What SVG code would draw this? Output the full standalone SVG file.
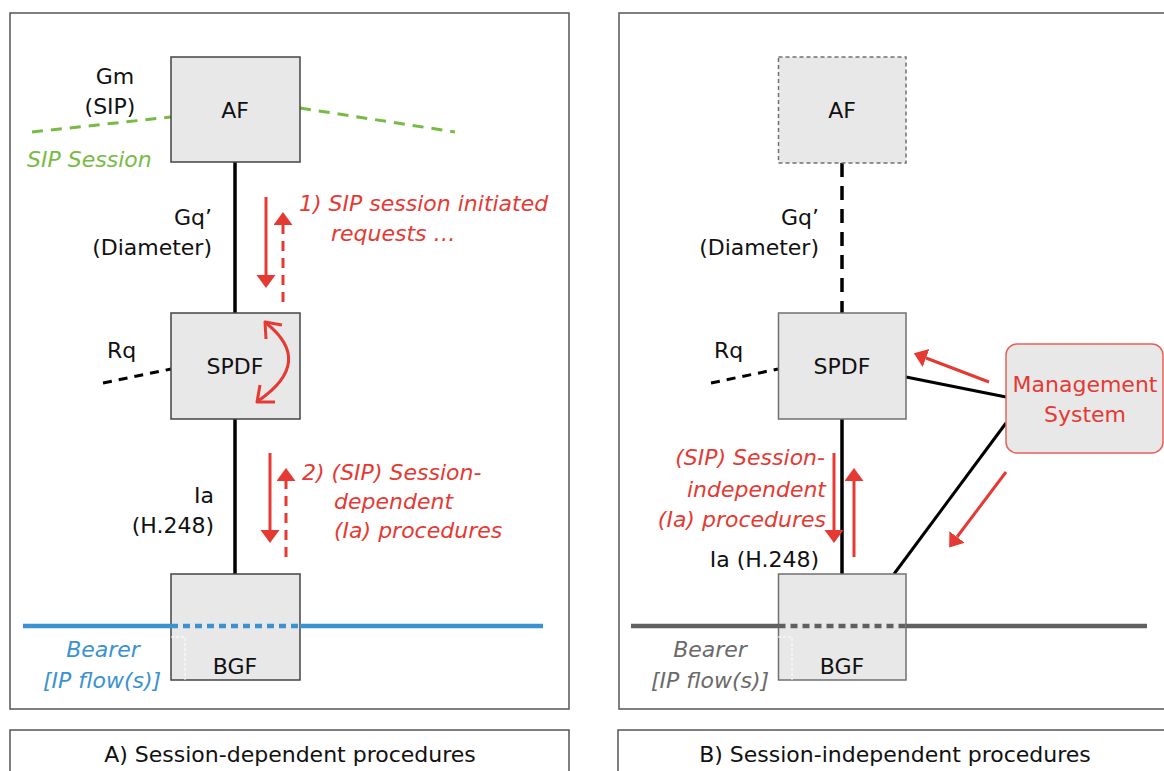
<svg xmlns="http://www.w3.org/2000/svg" width="1164" height="771" viewBox="0 0 1164 771">
<style>
text{font-family:"DejaVu Sans","Liberation Sans",sans-serif;font-size:22px;fill:#111}
.c{text-anchor:middle}
.e{text-anchor:end}
.red{fill:#e53a33;font-style:italic}
.redn{fill:#e53a33}
.grn{fill:#77bb44;font-style:italic}
.blu{fill:#3a92d0;font-style:italic}
.gry{fill:#6a6a6a;font-style:italic}
.panel{fill:#fff;stroke:#555;stroke-width:1.5}
.box{fill:#e8e8e8;stroke:#444;stroke-width:1.5}
.boxg{fill:#e8e8e8;stroke:#707070;stroke-width:1.5}
.wire{stroke:#000;stroke-width:3.5;fill:none}
.ra{stroke:#e53a33;stroke-width:3;fill:none}
.rad{stroke:#e53a33;stroke-width:3;fill:none;stroke-dasharray:10 7}
</style>
<defs>
<marker id="ah" markerUnits="userSpaceOnUse" markerWidth="14" markerHeight="20" refX="0" refY="9.5" orient="auto">
<path d="M0,0 L13,9.5 L0,19 z" fill="#e53a33"/>
</marker>
</defs>

<rect class="panel" x="10" y="13" width="559" height="696"/>
<rect class="panel" x="619" y="13" width="560" height="696"/>
<rect class="panel" x="10" y="730" width="559" height="60"/>
<rect class="panel" x="618" y="730" width="561" height="60"/>
<text class="c" x="290" y="762">A) Session-dependent procedures</text>
<text class="c" x="895" y="762">B) Session-independent procedures</text>

<g id="connectors">
<line class="wire" x1="235" y1="162" x2="235" y2="313"/>
<line class="wire" x1="235" y1="419" x2="235" y2="574"/>
<path d="M32,132 L171,117" stroke="#77bb44" stroke-width="3" stroke-dasharray="11 8" fill="none"/>
<path d="M300,108 L455,132" stroke="#77bb44" stroke-width="3" stroke-dasharray="11 8" fill="none"/>
<path d="M103,383 L171,369" stroke="#000" stroke-width="3" stroke-dasharray="9 7" fill="none"/>
<line class="wire" x1="842" y1="163" x2="842" y2="313" stroke-dasharray="14 9" stroke-width="4"/>
<line class="wire" x1="842" y1="419" x2="842" y2="574" stroke-width="4"/>
<path d="M711,383 L778,369" stroke="#000" stroke-width="3" stroke-dasharray="9 7" fill="none"/>
<line x1="906" y1="377" x2="1006" y2="397" stroke="#000" stroke-width="3"/>
<line x1="1006" y1="423" x2="894" y2="574" stroke="#000" stroke-width="3"/>

<line class="ra" x1="266" y1="197" x2="266" y2="275" marker-end="url(#ah)"/>
<line class="rad" x1="283" y1="302" x2="283" y2="225" marker-end="url(#ah)"/>
<line class="ra" x1="270" y1="453" x2="270" y2="530" marker-end="url(#ah)"/>
<line class="rad" x1="286" y1="557" x2="286" y2="481" marker-end="url(#ah)"/>
<line class="ra" x1="834" y1="453" x2="834" y2="530" marker-end="url(#ah)"/>
<line class="ra" x1="854" y1="557" x2="854" y2="481" marker-end="url(#ah)"/>
<line class="ra" x1="989" y1="382" x2="926" y2="358" marker-end="url(#ah)"/>
<line class="ra" x1="1006" y1="472" x2="957" y2="537" marker-end="url(#ah)"/>
</g>

<g id="AF-A">
<rect class="box" x="171" y="57" width="129" height="105"/>
<text class="c" x="235" y="118">AF</text>
</g>
<g id="SPDF-A">
<rect class="box" x="171" y="313" width="129" height="106"/>
<text class="c" x="235" y="374">SPDF</text>
<path d="M266,323 Q315,362 258,401" stroke="#e53a33" stroke-width="3" fill="none"/>
<polyline points="282,325 265,322 266,339" stroke="#e53a33" stroke-width="3" fill="none" stroke-linejoin="round"/>
<polyline points="260,385 257,402 275,402" stroke="#e53a33" stroke-width="3" fill="none" stroke-linejoin="round"/>
</g>
<g id="BGF-A">
<rect class="box" x="171" y="574" width="129" height="106"/>
<text class="c" x="235" y="674">BGF</text>
<line x1="23" y1="626" x2="171" y2="626" stroke="#3a92d0" stroke-width="4.5"/>
<line x1="171" y1="626" x2="300" y2="626" stroke="#3a92d0" stroke-width="4.5" stroke-dasharray="7 5"/>
<line x1="300" y1="626" x2="543" y2="626" stroke="#3a92d0" stroke-width="4.5"/>
<polyline points="171,637 185,637 185,680" stroke="#fff" stroke-width="1" stroke-dasharray="3 2" fill="none"/>
</g>

<g id="AF-B">
<rect class="boxg" x="778.5" y="57" width="127.5" height="106" stroke-dasharray="4 3" stroke="#444"/>
<text class="c" x="842" y="118">AF</text>
</g>
<g id="SPDF-B">
<rect class="boxg" x="778.5" y="313" width="127.5" height="106"/>
<text class="c" x="842" y="374">SPDF</text>
</g>
<g id="BGF-B">
<rect class="boxg" x="778.5" y="574" width="127.5" height="106"/>
<text class="c" x="842" y="674">BGF</text>
<line x1="631" y1="626" x2="778.5" y2="626" stroke="#606060" stroke-width="4.5"/>
<line x1="778.5" y1="626" x2="906" y2="626" stroke="#606060" stroke-width="4.5" stroke-dasharray="7 5"/>
<line x1="906" y1="626" x2="1147" y2="626" stroke="#606060" stroke-width="4.5"/>
<polyline points="778,637 792,637 792,680" stroke="#fff" stroke-width="1" stroke-dasharray="3 2" fill="none"/>
</g>
<g id="Management">
<rect x="1006" y="344" width="157" height="109" rx="11" fill="#e8e8e8" stroke="#e86058" stroke-width="1.5"/>
<text class="c redn" x="1085" y="392">Management</text>
<text class="c redn" x="1085" y="422">System</text>
</g>

<g id="labels">
<text class="c" x="115" y="84">Gm</text>
<text class="c" x="110" y="114">(SIP)</text>
<text class="grn" x="27" y="167">SIP Session</text>
<text class="e" x="212" y="225">Gq’</text>
<text class="e" x="212" y="255">(Diameter)</text>
<text class="red" x="299" y="211">1) SIP session initiated</text>
<text class="red" x="331" y="241">requests …</text>
<text x="107" y="358">Rq</text>
<text class="e" x="214" y="503">Ia</text>
<text class="e" x="214" y="533">(H.248)</text>
<text class="red" x="302" y="480">2) (SIP) Session-</text>
<text class="red" x="334" y="509">dependent</text>
<text class="red" x="334" y="538">(Ia) procedures</text>
<text class="blu c" x="103" y="657">Bearer</text>
<text class="blu c" x="102" y="688">[IP flow(s)]</text>

<text class="e" x="819" y="225">Gq’</text>
<text class="e" x="819" y="255">(Diameter)</text>
<text x="714" y="358">Rq</text>
<text class="red e" x="825" y="465">(SIP) Session-</text>
<text class="red e" x="826" y="497">independent</text>
<text class="red e" x="826" y="527">(Ia) procedures</text>
<text class="e" x="819" y="567">Ia (H.248)</text>
<text class="gry c" x="710" y="657">Bearer</text>
<text class="gry c" x="710" y="688">[IP flow(s)]</text>
</g>
</svg>
